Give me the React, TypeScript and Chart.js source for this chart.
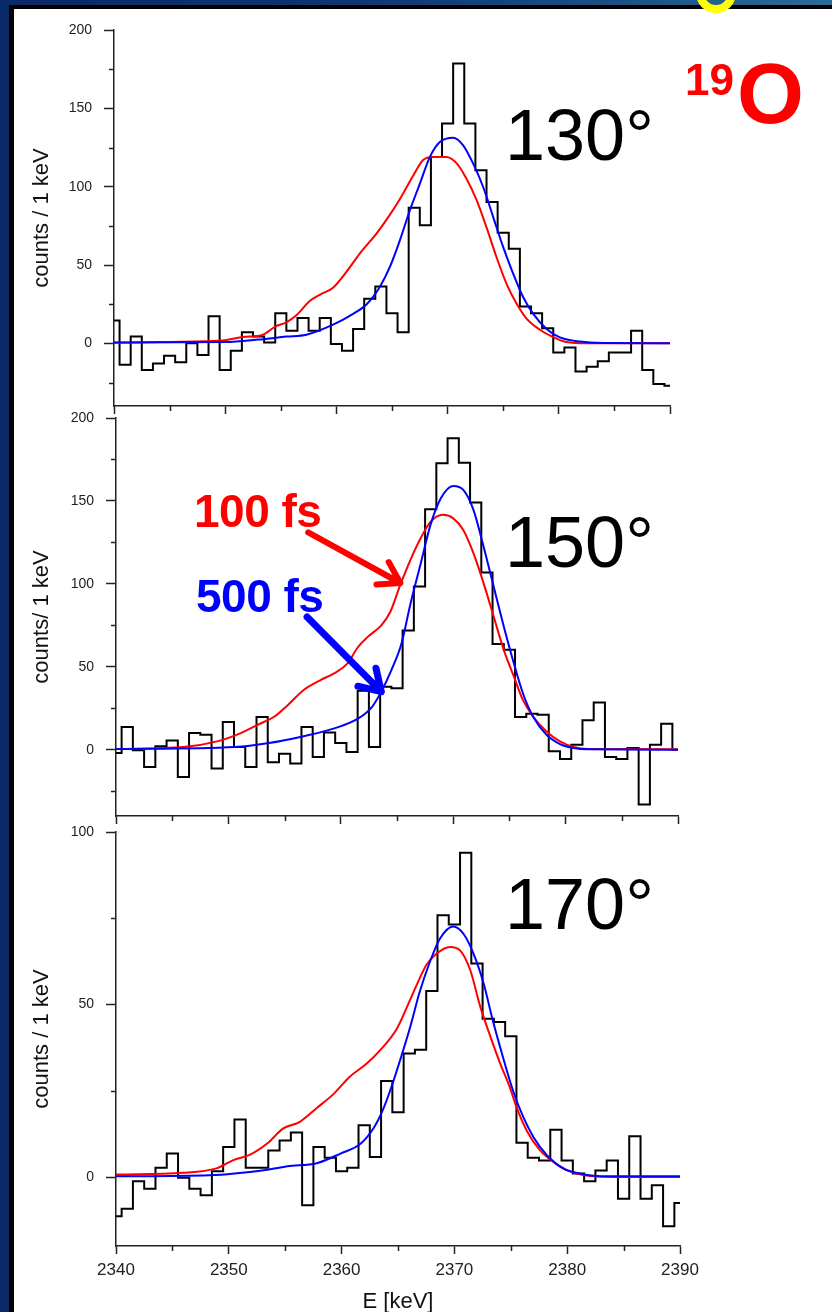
import React, { useEffect, useRef } from "react";
import { Chart, registerables } from "chart.js";

Chart.register(...registerables);

const FONT = '"Liberation Sans", Arial, Helvetica, sans-serif';
Chart.defaults.font.family = FONT;

// ---------- data ----------
const E_MIN = 2340;
const E_MAX = 2390;

const BIN_CENTERS = [
  2340, 2341, 2342, 2343, 2344, 2345, 2346, 2347, 2348, 2349,
  2350, 2351, 2352, 2353, 2354, 2355, 2356, 2357, 2358, 2359,
  2360, 2361, 2362, 2363, 2364, 2365, 2366, 2367, 2368, 2369,
  2370, 2371, 2372, 2373, 2374, 2375, 2376, 2377, 2378, 2379,
  2380, 2381, 2382, 2383, 2384, 2385, 2386, 2387, 2388, 2389,
  2390,
];

const X_MAJOR_TICKS = [2340, 2350, 2360, 2370, 2380, 2390];
const X_MINOR_TICKS = [2345, 2355, 2365, 2375, 2385];
const Y_MAJOR_TICKS_200 = [0, 50, 100, 150, 200];
const Y_MINOR_TICKS_200 = [-25, 25, 75, 125, 175];
const Y_MAJOR_TICKS_100 = [0, 50, 100];
const Y_MINOR_TICKS_100 = [25, 75];

const X_TITLE = "E [keV]";
const Y_TITLE_130 = "counts / 1 keV";
const Y_TITLE_150 = "counts/ 1 keV";
const Y_TITLE_170 = "counts / 1 keV";

// measured spectra (counts per 1 keV bin)
const HIST_130 = [
  14.5, -13.6, 4.3, -17, -12.8, -7.9, -12.1, 0, -7.5, 17.3,
  -17, -4.7, 7, 4.3, 0.6, 19.2, 8.1, 16.2, 8.1, 16.2,
  -0.4, -4.7, 9.2, 28.4, 36.3, 19.2, 7, 86.6, 75.3, 118.9,
  140.3, 178.6, 140.3, 110.4, 90.2, 70.6, 60.3, 23.5, 19.2, 9.6,
  -5.8, -2.6, -17.9, -15, -11.5, -5.8, -5.8, 8.1, -17, -26,
  -27,
];
const HIST_150 = [
  -2, 13.7, -0.4, -10.4, 2, 5.6, -16.5, 10, 9, -11.4,
  16.7, 1.6, -10.4, 19.7, -7.6, -2.4, -8.4, 13.7, -4.4, 10.4,
  4, -1.4, 35.5, 1.6, 38, 37, 71.9, 98.4, 145, 172.7,
  187.8, 173, 149, 106.8, 63.7, 60.2, 19.7, 21.7, 21, -1,
  -5.6, 3, 17.7, 28.5, -4.4, -5.6, 1, -33.1, 3, 15.7,
  0,
];
const HIST_170 = [
  -11.4, -9.2, -1.2, -3.4, 2.7, 6.8, -0.2, -3.4, -5.3, 1.7,
  8.7, 16.7, 2.7, 2.7, 7.7, 10.6, 12.9, -8.2, 8.7, 5.6,
  1.7, 2.7, 15, 5.8, 27.8, 18.8, 35.8, 36.9, 53.9, 75.9,
  73.2, 94, 61.9, 45.9, 44.9, 40.8, 9.9, 5.6, 4.8, 13.7,
  4.8, 1, -1.2, 1.9, 4.8, -6.3, 11.8, -6.3, -2.4, -14.3,
  -7.5,
];

// simulated line shapes: [E (keV), counts]
const RED_130: [number, number][] = [
  [2340, 0.4], [2344, 0.8], [2348, 1.3], [2350, 2], [2351.6, 4], [2353.4, 5.5],
  [2354.5, 10.7], [2355.5, 13.4], [2356.4, 17.9], [2357.6, 27], [2358.5, 31],
  [2359.7, 35.5], [2360.9, 45.6], [2362.1, 57.3], [2363.6, 70], [2364.8, 82],
  [2365.7, 92], [2366.9, 107], [2367.8, 117], [2368.7, 119], [2369.9, 119],
  [2370.8, 115], [2371.7, 105], [2372.6, 91.5], [2373.5, 74], [2374.4, 55],
  [2375.3, 38], [2376.2, 25.4], [2377.1, 15.8], [2378.3, 8.7], [2379.5, 4],
  [2380.7, 0.8], [2382.5, 0], [2390, 0],
];
const BLUE_130: [number, number][] = [
  [2340, 0.5], [2350, 0.8], [2353, 2.4], [2355.5, 4.3], [2357.3, 5.5],
  [2359.7, 11.9], [2361.5, 18.8], [2362.7, 24.8], [2363.9, 36], [2364.8, 48.6],
  [2365.7, 65.6], [2366.6, 84.8], [2367.5, 101.8], [2368.4, 118.9], [2369.3, 128.5],
  [2370.5, 131.3], [2371.4, 126.4], [2372.3, 114.7], [2373.2, 99.8], [2374.1, 80.6],
  [2375.0, 61.4], [2375.9, 44.4], [2376.8, 29.4], [2377.7, 18.8], [2378.9, 9.2],
  [2380.1, 3.8], [2381.9, 1.1], [2384, 0.2], [2390, 0],
];
const RED_150: [number, number][] = [
  [2340, 0.4], [2346, 1.6], [2349, 5], [2351.1, 10], [2352.6, 15], [2354.1, 20],
  [2355.3, 27], [2356.7, 36], [2358.2, 42], [2359.4, 46], [2360.6, 52],
  [2361.5, 61.6], [2362.4, 68], [2363.6, 75], [2364.4, 83], [2365.3, 99.5],
  [2366.2, 114.5], [2367.1, 127.5], [2368, 137.5], [2369.1, 141.6], [2370, 139.5],
  [2370.9, 132.5], [2371.8, 118.5], [2372.7, 100.4], [2373.6, 80.3], [2374.5, 60.2],
  [2375.4, 44], [2376.2, 30], [2377.1, 20], [2378.3, 11], [2379.5, 5],
  [2380.7, 1.6], [2382, 0.4], [2390, 0.3],
];
const BLUE_150: [number, number][] = [
  [2340, 0.4], [2350.6, 1.6], [2353.6, 4], [2356.6, 8], [2359.5, 13], [2361.6, 19],
  [2362.8, 26], [2363.6, 35], [2364.5, 48], [2365.4, 64], [2366.2, 88],
  [2367.1, 112], [2368, 136], [2368.9, 151.6], [2370, 159], [2370.9, 156.6],
  [2371.8, 144.6], [2372.7, 122.5], [2373.6, 98.4], [2374.5, 74.3], [2375.4, 52],
  [2376.2, 34], [2377.1, 20], [2378.3, 9], [2379.5, 3.4], [2380.7, 1],
  [2382, 0.2], [2390, 0],
];
const RED_170: [number, number][] = [
  [2340, 0.7], [2345.9, 1.2], [2348.9, 2.5], [2350.4, 4.9], [2351.9, 6.5],
  [2353.4, 9.7], [2354.8, 14], [2356.3, 16], [2357.8, 20], [2359.3, 24.1],
  [2360.7, 29], [2362.2, 32.8], [2363.4, 36.7], [2364.9, 43], [2365.8, 49.3],
  [2366.7, 56], [2367.5, 61.4], [2368.4, 64.7], [2369.6, 66.7], [2370.5, 65.7],
  [2371.4, 60], [2372.3, 49.3], [2373.2, 40.6], [2374.0, 33.4], [2374.9, 26.1],
  [2375.5, 20.3], [2376.4, 13.5], [2377.6, 7.7], [2378.8, 4.3], [2380, 1.9],
  [2381.7, 0.4], [2384, 0], [2390, 0],
];
const BLUE_170: [number, number][] = [
  [2340, 0.2], [2348.3, 0.5], [2353.4, 2.1], [2355.2, 3.1], [2357.8, 4],
  [2359.9, 6.8], [2361.7, 9.7], [2362.9, 14.5], [2363.6, 19], [2364.3, 25],
  [2365.2, 34], [2366.1, 43.7], [2366.9, 53.4], [2367.8, 62.1], [2368.7, 69],
  [2369.9, 72.6], [2370.8, 70.5], [2371.7, 64.7], [2372.6, 56], [2373.4, 45.4],
  [2374.3, 34.8], [2375.2, 25], [2376.1, 17.4], [2377, 11.6], [2378.2, 6.3],
  [2379.7, 2.4], [2381.1, 1], [2383, 0.2], [2390, 0.2],
];

// annotation arrows in panel 150° (data coordinates)
const ARROW_100FS = { from: [2357.1, 131], to: [2365.3, 100.5] };
const ARROW_500FS = { from: [2357.0, 80], to: [2363.6, 35] };

// ---------- layout / style ----------
const RED = "#ff0000";
const BLUE = "#0000ff";
const INK = "#222222";

type Box = {
  canvasTop: number;
  canvasHeight: number;
  plotTop: number;
  plotBottom: number;
  plotLeft: number;
  plotRight: number;
};

type PanelSpec = {
  hist: number[];
  red: [number, number][];
  blue: [number, number][];
  yMin: number;
  yMax: number;
  yMajor: number[];
  yMinor: number[];
  yTitle: string;
  showX: boolean;
  arrows: { from: number[]; to: number[]; color: string; width: number }[];
  box: Box;
};

const PANELS: PanelSpec[] = [
  {
    hist: HIST_130, red: RED_130, blue: BLUE_130,
    yMin: -40, yMax: 200, yMajor: Y_MAJOR_TICKS_200, yMinor: Y_MINOR_TICKS_200,
    yTitle: Y_TITLE_130, showX: false, arrows: [],
    box: { canvasTop: 0, canvasHeight: 420, plotTop: 30, plotBottom: 406, plotLeft: 114, plotRight: 670 },
  },
  {
    hist: HIST_150, red: RED_150, blue: BLUE_150,
    yMin: -40, yMax: 200, yMajor: Y_MAJOR_TICKS_200, yMinor: Y_MINOR_TICKS_200,
    yTitle: Y_TITLE_150, showX: false,
    arrows: [
      { ...ARROW_100FS, color: RED, width: 6 },
      { ...ARROW_500FS, color: BLUE, width: 7 },
    ],
    box: { canvasTop: 408, canvasHeight: 422, plotTop: 418, plotBottom: 816, plotLeft: 116, plotRight: 678 },
  },
  {
    hist: HIST_170, red: RED_170, blue: BLUE_170,
    yMin: -20, yMax: 100, yMajor: Y_MAJOR_TICKS_100, yMinor: Y_MINOR_TICKS_100,
    yTitle: Y_TITLE_170, showX: true, arrows: [],
    box: { canvasTop: 822, canvasHeight: 495, plotTop: 832, plotBottom: 1246, plotLeft: 116, plotRight: 680 },
  },
];

function buildConfig(spec: PanelSpec): any {
  const box = spec.box;

  const extras = {
    id: "extras",
    afterDraw(chart: any) {
      const ctx = chart.ctx;
      const xs = chart.scales.x;
      const ys = chart.scales.y;
      ctx.save();
      ctx.strokeStyle = INK;
      ctx.lineWidth = 1.5;
      X_MINOR_TICKS.forEach((v) => {
        const px = Math.round(xs.getPixelForValue(v)) + 0.5;
        ctx.beginPath();
        ctx.moveTo(px, xs.top);
        ctx.lineTo(px, xs.top + 5);
        ctx.stroke();
      });
      spec.yMinor.forEach((v) => {
        const py = Math.round(ys.getPixelForValue(v)) + 0.5;
        ctx.beginPath();
        ctx.moveTo(ys.right, py);
        ctx.lineTo(ys.right - 5, py);
        ctx.stroke();
      });
      ctx.restore();

      spec.arrows.forEach((a) => {
        const x0 = xs.getPixelForValue(a.from[0]);
        const y0 = ys.getPixelForValue(a.from[1]);
        const x1 = xs.getPixelForValue(a.to[0]);
        const y1 = ys.getPixelForValue(a.to[1]);
        const ang = Math.atan2(y1 - y0, x1 - x0);
        const L = 24;
        const spread = 0.56;
        ctx.save();
        ctx.strokeStyle = a.color;
        ctx.lineWidth = a.width;
        ctx.lineCap = "round";
        ctx.lineJoin = "round";
        ctx.beginPath();
        ctx.moveTo(x0, y0);
        ctx.lineTo(x1, y1);
        ctx.moveTo(x1 - L * Math.cos(ang - spread), y1 - L * Math.sin(ang - spread));
        ctx.lineTo(x1, y1);
        ctx.lineTo(x1 - L * Math.cos(ang + spread), y1 - L * Math.sin(ang + spread));
        ctx.stroke();
        ctx.restore();
      });
    },
  };

  return {
    type: "line",
    data: {
      datasets: [
        {
          label: "500 fs",
          data: spec.blue.map(([x, y]) => ({ x, y })),
          borderColor: BLUE,
          borderWidth: 2,
          pointRadius: 0,
          tension: 0.4,
          cubicInterpolationMode: "monotone",
          fill: false,
          order: 1,
        },
        {
          label: "100 fs",
          data: spec.red.map(([x, y]) => ({ x, y })),
          borderColor: RED,
          borderWidth: 2,
          pointRadius: 0,
          tension: 0.4,
          cubicInterpolationMode: "monotone",
          fill: false,
          order: 2,
        },
        {
          label: "data",
          data: BIN_CENTERS.map((x, i) => ({ x, y: spec.hist[i] })),
          borderColor: "#000000",
          borderWidth: 2,
          pointRadius: 0,
          stepped: "middle",
          fill: false,
          order: 3,
        },
      ],
    },
    options: {
      animation: false,
      responsive: false,
      devicePixelRatio: 1,
      events: [],
      layout: {
        autoPadding: false,
        padding: {
          top: box.plotTop - box.canvasTop,
          right: 832 - box.plotRight,
          bottom: 0,
          left: 0,
        },
      },
      plugins: {
        legend: { display: false },
        tooltip: { enabled: false },
        title: { display: false },
      },
      scales: {
        x: {
          type: "linear",
          position: "bottom",
          min: E_MIN,
          max: E_MAX,
          afterBuildTicks: (s: any) => {
            s.ticks = X_MAJOR_TICKS.map((v) => ({ value: v }));
          },
          afterFit: (s: any) => {
            s.height = box.canvasTop + box.canvasHeight - box.plotBottom;
            s.paddingLeft = 0;
            s.paddingRight = 0;
            s.paddingTop = 0;
            s.paddingBottom = 0;
          },
          grid: {
            display: true,
            drawOnChartArea: false,
            drawTicks: true,
            tickLength: 8,
            tickWidth: 1.5,
            tickColor: INK,
          },
          border: { display: true, color: INK, width: 1.5 },
          ticks: {
            display: spec.showX,
            font: { size: 17 },
            color: INK,
            padding: 6,
            maxRotation: 0,
            autoSkip: false,
            callback: (v: any) => String(v),
          },
          title: {
            display: spec.showX,
            text: X_TITLE,
            font: { size: 22 },
            color: "#111111",
            padding: { top: 0, bottom: 2 },
          },
        },
        y: {
          type: "linear",
          position: "left",
          min: spec.yMin,
          max: spec.yMax,
          afterBuildTicks: (s: any) => {
            s.ticks = spec.yMajor.map((v) => ({ value: v }));
          },
          afterFit: (s: any) => {
            s.width = box.plotLeft;
            s.paddingLeft = 0;
            s.paddingRight = 0;
            s.paddingTop = 0;
            s.paddingBottom = 0;
          },
          grid: {
            display: true,
            drawOnChartArea: false,
            drawTicks: true,
            tickLength: 10,
            tickWidth: 1.5,
            tickColor: INK,
          },
          border: { display: true, color: INK, width: 1.5 },
          ticks: {
            font: { size: 14 },
            color: INK,
            padding: 12,
            autoSkip: false,
            callback: (v: any) => String(v),
          },
          title: {
            display: true,
            text: spec.yTitle,
            font: { size: 22 },
            color: "#111111",
            padding: { top: 28.5, bottom: 0 },
          },
        },
      },
    },
    plugins: [extras],
  };
}

function Panel({ spec }: { spec: PanelSpec }) {
  const ref = useRef<HTMLCanvasElement | null>(null);
  useEffect(() => {
    if (!ref.current) return;
    const chart = new Chart(ref.current, buildConfig(spec));
    return () => chart.destroy();
  }, [spec]);
  return (
    <canvas
      ref={ref}
      width={832}
      height={spec.box.canvasHeight}
      style={{
        position: "absolute",
        left: 0,
        top: spec.box.canvasTop,
        width: 832,
        height: spec.box.canvasHeight,
        display: "block",
      }}
    />
  );
}

function Label({
  text, left, top, size, color, bold, spacing,
}: {
  text: string; left: number; top: number; size: number; color: string; bold?: boolean; spacing?: number;
}) {
  return (
    <div
      style={{
        position: "absolute",
        left,
        top,
        fontFamily: FONT,
        fontSize: size,
        lineHeight: 1,
        fontWeight: bold ? 700 : 400,
        color,
        whiteSpace: "nowrap",
        letterSpacing: spacing ?? 0,
      }}
    >
      {text}
    </div>
  );
}

export default function App() {
  return (
    <div
      style={{
        position: "fixed",
        left: 0,
        top: 0,
        width: 832,
        height: 1312,
        overflow: "hidden",
        background: "linear-gradient(90deg, #0a2967 0%, #0e3472 40%, #1b5186 75%, #2b6c98 100%)",
      }}
    >
      <div
        style={{
          position: "absolute",
          left: 9,
          top: 5,
          right: 0,
          bottom: 0,
          background: "#ffffff",
          borderLeft: "5px solid #000000",
          borderTop: "4px solid #000000",
        }}
      />
      <div
        style={{
          position: "absolute",
          left: 696,
          top: -27,
          width: 24,
          height: 24,
          borderRadius: "50%",
          border: "8px solid #ffff00",
          background: "#23608f",
        }}
      />
      {PANELS.map((p, i) => (
        <Panel key={i} spec={p} />
      ))}
      <Label text="130°" left={505} top={99} size={72} color="#000000" />
      <Label text="150°" left={505} top={506} size={72} color="#000000" />
      <Label text="170°" left={505} top={868} size={72} color="#000000" />
      <Label text="100 fs" left={194} top={488} size={46} color={RED} bold spacing={-0.5} />
      <Label text="500 fs" left={196} top={573} size={46} color={BLUE} bold spacing={-0.5} />
      <Label text="19" left={685} top={58} size={44} color={RED} bold />
      <Label text="O" left={737} top={50} size={86} color={RED} bold />
    </div>
  );
}
